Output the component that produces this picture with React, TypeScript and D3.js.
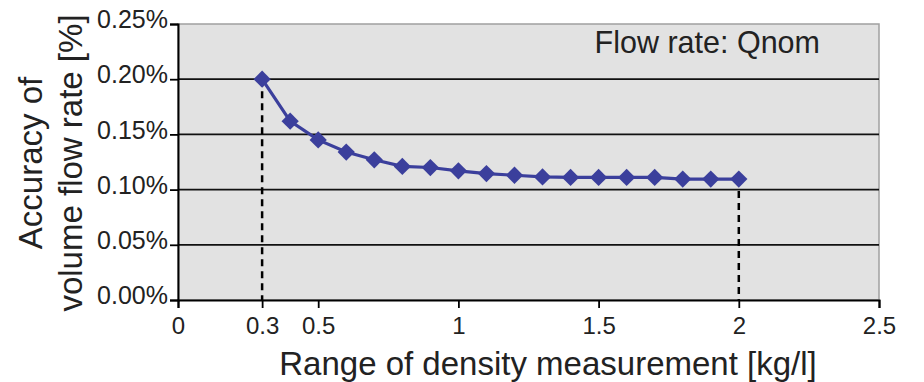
import { useRef, useEffect } from 'react';
import * as d3 from 'd3';

// density range [kg/l] vs accuracy [%]
const densities = [0.3, 0.4, 0.5, 0.6, 0.7, 0.8, 0.9, 1.0, 1.1, 1.2, 1.3, 1.4, 1.5, 1.6, 1.7, 1.8, 1.9, 2.0];
const accuracy = [0.2, 0.162, 0.145, 0.134, 0.127, 0.121, 0.12, 0.117, 0.1145, 0.113, 0.1115, 0.111, 0.111, 0.111, 0.111, 0.1095, 0.1095, 0.1095];
const xTicks = [0, 0.3, 0.5, 1, 1.5, 2, 2.5];
const yTicks = [0, 0.05, 0.1, 0.15, 0.2, 0.25];
const markerLines = [0.3, 2.0];

const W = 924;
const H = 382;
const margin = { top: 24, right: 45, bottom: 82, left: 178 };
const font = '"Liberation Sans", Arial, sans-serif';

export default function App() {
  const svgRef = useRef<SVGSVGElement>(null);

  useEffect(() => {
    if (!svgRef.current) return;
    const svg = d3.select(svgRef.current);
    svg.selectAll('*').remove();

    const innerW = W - margin.left - margin.right;
    const innerH = H - margin.top - margin.bottom;
    const g = svg.append('g').attr('transform', `translate(${margin.left},${margin.top})`);

    const x = d3.scaleLinear().domain([0, 2.5]).range([0, innerW]);
    const y = d3.scaleLinear().domain([0, 0.25]).range([innerH, 0]);

    // plot background + gray frame
    g.append('rect')
      .attr('width', innerW)
      .attr('height', innerH)
      .attr('fill', '#e2e2e2')
      .attr('stroke', '#a0a0a0')
      .attr('stroke-width', 1.5);

    // horizontal grid
    g.selectAll('.grid')
      .data(yTicks.filter((d) => d > 0 && d < 0.25))
      .enter()
      .append('line')
      .attr('x1', 0)
      .attr('x2', innerW)
      .attr('y1', (d) => y(d))
      .attr('y2', (d) => y(d))
      .attr('stroke', '#111')
      .attr('stroke-width', 1.8);

    // dashed drop lines at range limits
    markerLines.forEach((d) => {
      const i = densities.indexOf(d);
      g.append('line')
        .attr('x1', x(d))
        .attr('x2', x(d))
        .attr('y1', y(accuracy[i]))
        .attr('y2', innerH)
        .attr('stroke', '#000')
        .attr('stroke-width', 2.5)
        .attr('stroke-dasharray', '7 5');
    });

    // Y axis
    const yAxis = g.append('g').call(
      d3.axisLeft(y).tickValues(yTicks).tickSize(8).tickPadding(2)
        .tickFormat((d) => `${(+d).toFixed(2)}%`)
    );
    yAxis.attr('font-size', null).attr('font-family', null);
    yAxis.select('.domain').attr('stroke', '#000').attr('stroke-width', 2);
    yAxis.selectAll('.tick line').attr('stroke', '#000').attr('stroke-width', 1.8);
    yAxis.selectAll('text')
      .style('font-size', '25px')
      .style('font-family', font)
      .attr('fill', '#222')
      .attr('dy', '0.15em');

    // X axis
    const xAxis = g.append('g')
      .attr('transform', `translate(0,${innerH})`)
      .call(d3.axisBottom(x).tickValues(xTicks).tickSize(8).tickPadding(9).tickFormat((d) => `${d}`));
    xAxis.attr('font-size', null).attr('font-family', null);
    xAxis.select('.domain').attr('stroke', '#000').attr('stroke-width', 2);
    xAxis.selectAll('.tick line').attr('stroke', '#000').attr('stroke-width', 1.8);
    xAxis.selectAll('text')
      .style('font-size', '24px')
      .style('font-family', font)
      .attr('fill', '#222');

    // series
    const pts = densities.map((d, i) => [d, accuracy[i]] as [number, number]);
    const line = d3.line<[number, number]>().x((d) => x(d[0])).y((d) => y(d[1]));
    g.append('path')
      .datum(pts)
      .attr('d', line)
      .attr('fill', 'none')
      .attr('stroke', '#3b3f9c')
      .attr('stroke-width', 3.2);

    const diamond = d3.symbol().type(d3.symbolDiamond2).size(190);
    g.selectAll('.pt')
      .data(pts)
      .enter()
      .append('path')
      .attr('d', diamond)
      .attr('transform', (d) => `translate(${x(d[0])},${y(d[1])})`)
      .attr('fill', '#3b3f9c');

    // annotation
    g.append('text')
      .attr('x', innerW - 59)
      .attr('y', 29)
      .attr('text-anchor', 'end')
      .attr('font-size', 30.5)
      .attr('font-family', font)
      .attr('fill', '#222')
      .text('Flow rate: Qnom');

    // axis titles
    svg.append('text')
      .attr('x', 548)
      .attr('y', 375)
      .attr('text-anchor', 'middle')
      .attr('font-size', 33)
      .attr('font-family', font)
      .attr('fill', '#222')
      .text('Range of density measurement [kg/l]');

    const yt = svg.append('text')
      .attr('transform', 'translate(0,163) rotate(-90)')
      .attr('text-anchor', 'middle')
      .attr('font-size', 33)
      .attr('font-family', font)
      .attr('fill', '#222');
    yt.append('tspan').attr('x', 0).attr('y', 42).text('Accuracy of');
    yt.append('tspan').attr('x', 0).attr('y', 82).text('volume flow rate [%]');
  }, []);

  return (
    <div style={{ position: 'fixed', left: 0, top: 0, background: '#fff' }}>
      <svg ref={svgRef} width={W} height={H} style={{ display: 'block' }} />
    </div>
  );
}
